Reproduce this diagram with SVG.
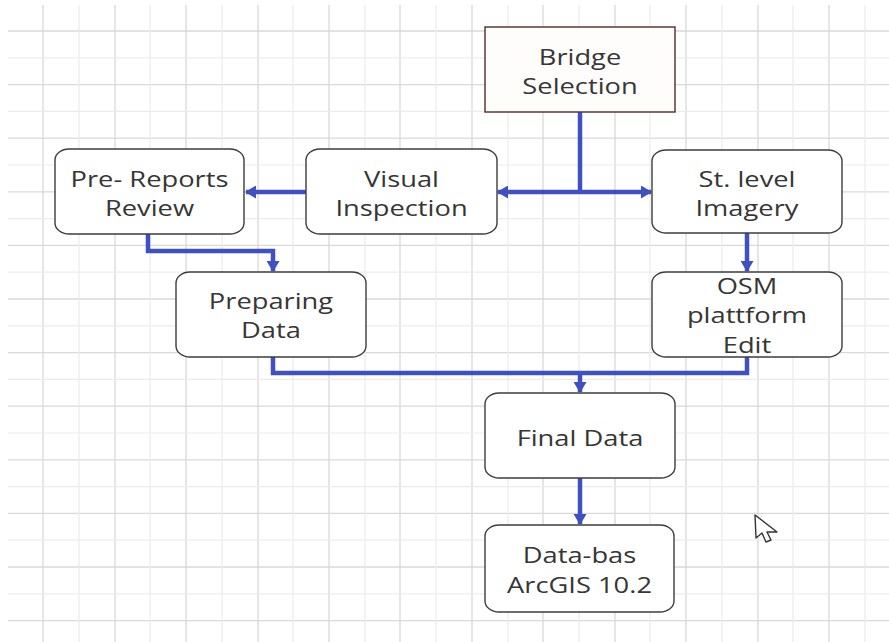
<svg xmlns="http://www.w3.org/2000/svg" width="889" height="642" viewBox="0 0 889 642">
  <defs>
    <style>
      .gd { stroke: #d9d9d9; stroke-width: 1.3; }
      .gl { stroke: #ebebeb; stroke-width: 1.2; }
      .box { fill: #ffffff; stroke: #3c3c3c; stroke-width: 1.4; }
      .sq { fill: #fffdfb; stroke: #5a3b30; stroke-width: 1.5; }
      .lbl { font-family: "Open Sans", "Noto Sans", sans-serif; font-size: 21px; fill: #363636; text-anchor: middle; }
      .con { fill: none; stroke: #3f50c2; stroke-width: 4.5; stroke-linejoin: miter; }
    </style>
    <marker id="ah" viewBox="0 0 11 13" refX="10" refY="6.5" markerWidth="11" markerHeight="13" markerUnits="userSpaceOnUse" orient="auto">
      <path d="M0,0 L11,6.5 L0,13 Z" fill="#3f50c2"/>
    </marker>
  </defs>
  <rect x="0" y="0" width="889" height="642" fill="#ffffff"/>
  <g id="grid">
    <g class="gd">
      <line x1="43" y1="5" x2="43" y2="642"/><line x1="115" y1="5" x2="115" y2="642"/><line x1="186" y1="5" x2="186" y2="642"/><line x1="258" y1="5" x2="258" y2="642"/><line x1="329" y1="5" x2="329" y2="642"/><line x1="400" y1="5" x2="400" y2="642"/><line x1="472" y1="5" x2="472" y2="642"/><line x1="543" y1="5" x2="543" y2="642"/><line x1="615" y1="5" x2="615" y2="642"/><line x1="686" y1="5" x2="686" y2="642"/><line x1="758" y1="5" x2="758" y2="642"/><line x1="829" y1="5" x2="829" y2="642"/>
      <line x1="8" y1="31" x2="889" y2="31"/><line x1="8" y1="84.6" x2="889" y2="84.6"/><line x1="8" y1="138.2" x2="889" y2="138.2"/><line x1="8" y1="191.8" x2="889" y2="191.8"/><line x1="8" y1="245.4" x2="889" y2="245.4"/><line x1="8" y1="299" x2="889" y2="299"/><line x1="8" y1="352.6" x2="889" y2="352.6"/><line x1="8" y1="406.2" x2="889" y2="406.2"/><line x1="8" y1="459.8" x2="889" y2="459.8"/><line x1="8" y1="513.4" x2="889" y2="513.4"/><line x1="8" y1="567" x2="889" y2="567"/><line x1="8" y1="620.6" x2="889" y2="620.6"/>
    </g>
    <g class="gl">
      <line x1="79" y1="5" x2="79" y2="642"/><line x1="150" y1="5" x2="150" y2="642"/><line x1="222" y1="5" x2="222" y2="642"/><line x1="293" y1="5" x2="293" y2="642"/><line x1="365" y1="5" x2="365" y2="642"/><line x1="436" y1="5" x2="436" y2="642"/><line x1="508" y1="5" x2="508" y2="642"/><line x1="579" y1="5" x2="579" y2="642"/><line x1="650" y1="5" x2="650" y2="642"/><line x1="722" y1="5" x2="722" y2="642"/><line x1="793" y1="5" x2="793" y2="642"/><line x1="865" y1="5" x2="865" y2="642"/>
      <line x1="8" y1="57.8" x2="889" y2="57.8"/><line x1="8" y1="111.4" x2="889" y2="111.4"/><line x1="8" y1="165" x2="889" y2="165"/><line x1="8" y1="218.6" x2="889" y2="218.6"/><line x1="8" y1="272.2" x2="889" y2="272.2"/><line x1="8" y1="325.8" x2="889" y2="325.8"/><line x1="8" y1="379.4" x2="889" y2="379.4"/><line x1="8" y1="433" x2="889" y2="433"/><line x1="8" y1="486.6" x2="889" y2="486.6"/><line x1="8" y1="540.2" x2="889" y2="540.2"/><line x1="8" y1="593.8" x2="889" y2="593.8"/>
    </g>
  </g>
  <g id="connectors">
    <path class="con" d="M580,112 V192"/>
    <path class="con" d="M580,192 H498" marker-end="url(#ah)"/>
    <path class="con" d="M580,192 H651" marker-end="url(#ah)"/>
    <path class="con" d="M306,192 H246" marker-end="url(#ah)"/>
    <path class="con" d="M148,234 V251 H273 V271" marker-end="url(#ah)"/>
    <path class="con" d="M747,233 V271" marker-end="url(#ah)"/>
    <path class="con" d="M273,357 V373 H747 V357"/>
    <path class="con" d="M580,373 V392" marker-end="url(#ah)"/>
    <path class="con" d="M580,478 V524" marker-end="url(#ah)"/>
  </g>
  <g id="bridge-selection">
    <rect class="sq" x="485" y="27" width="190" height="85"/>
    <text class="lbl" transform="translate(580 0) scale(1.3 1)"><tspan x="0" y="65">Bridge</tspan><tspan x="0" y="94">Selection</tspan></text>
  </g>
  <g id="visual-inspection">
    <rect class="box" x="306" y="149" width="191" height="85" rx="14" ry="11"/>
    <text class="lbl" transform="translate(401.5 0) scale(1.3 1)"><tspan x="0" y="187">Visual</tspan><tspan x="0" y="216">Inspection</tspan></text>
  </g>
  <g id="pre-reports-review">
    <rect class="box" x="55" y="149" width="189" height="85" rx="14" ry="11"/>
    <text class="lbl" transform="translate(149.5 0) scale(1.3 1)"><tspan x="0" y="187">Pre- Reports</tspan><tspan x="0" y="216">Review</tspan></text>
  </g>
  <g id="st-level-imagery">
    <rect class="box" x="652" y="150" width="190" height="83" rx="14" ry="11"/>
    <text class="lbl" transform="translate(747 0) scale(1.3 1)"><tspan x="0" y="187">St. level</tspan><tspan x="0" y="216">Imagery</tspan></text>
  </g>
  <g id="osm-plattform-edit">
    <rect class="box" x="652" y="272" width="190" height="85" rx="14" ry="11"/>
    <text class="lbl" transform="translate(747 0) scale(1.3 1)"><tspan x="0" y="294">OSM</tspan><tspan x="0" y="323">plattform</tspan><tspan x="0" y="353">Edit</tspan></text>
  </g>
  <g id="preparing-data">
    <rect class="box" x="176" y="272" width="190" height="85" rx="14" ry="11"/>
    <text class="lbl" transform="translate(271 0) scale(1.3 1)"><tspan x="0" y="309">Preparing</tspan><tspan x="0" y="338">Data</tspan></text>
  </g>
  <g id="final-data">
    <rect class="box" x="485" y="393" width="190" height="85" rx="14" ry="11"/>
    <text class="lbl" transform="translate(580 0) scale(1.3 1)"><tspan x="0" y="446">Final Data</tspan></text>
  </g>
  <g id="data-bas-arcgis">
    <rect class="box" x="485" y="525" width="189" height="87" rx="14" ry="11"/>
    <text class="lbl" transform="translate(579.5 0) scale(1.3 1)"><tspan x="0" y="563">Data-bas</tspan><tspan x="0" y="593">ArcGIS 10.2</tspan></text>
  </g>
  <g id="cursor">
    <path d="M755,515 L756,538 L762,533 L766,542 L771,540 L767,532 L777,532 Z" fill="#ffffff" stroke="#333333" stroke-width="1.4" stroke-linejoin="round"/>
  </g>
</svg>
